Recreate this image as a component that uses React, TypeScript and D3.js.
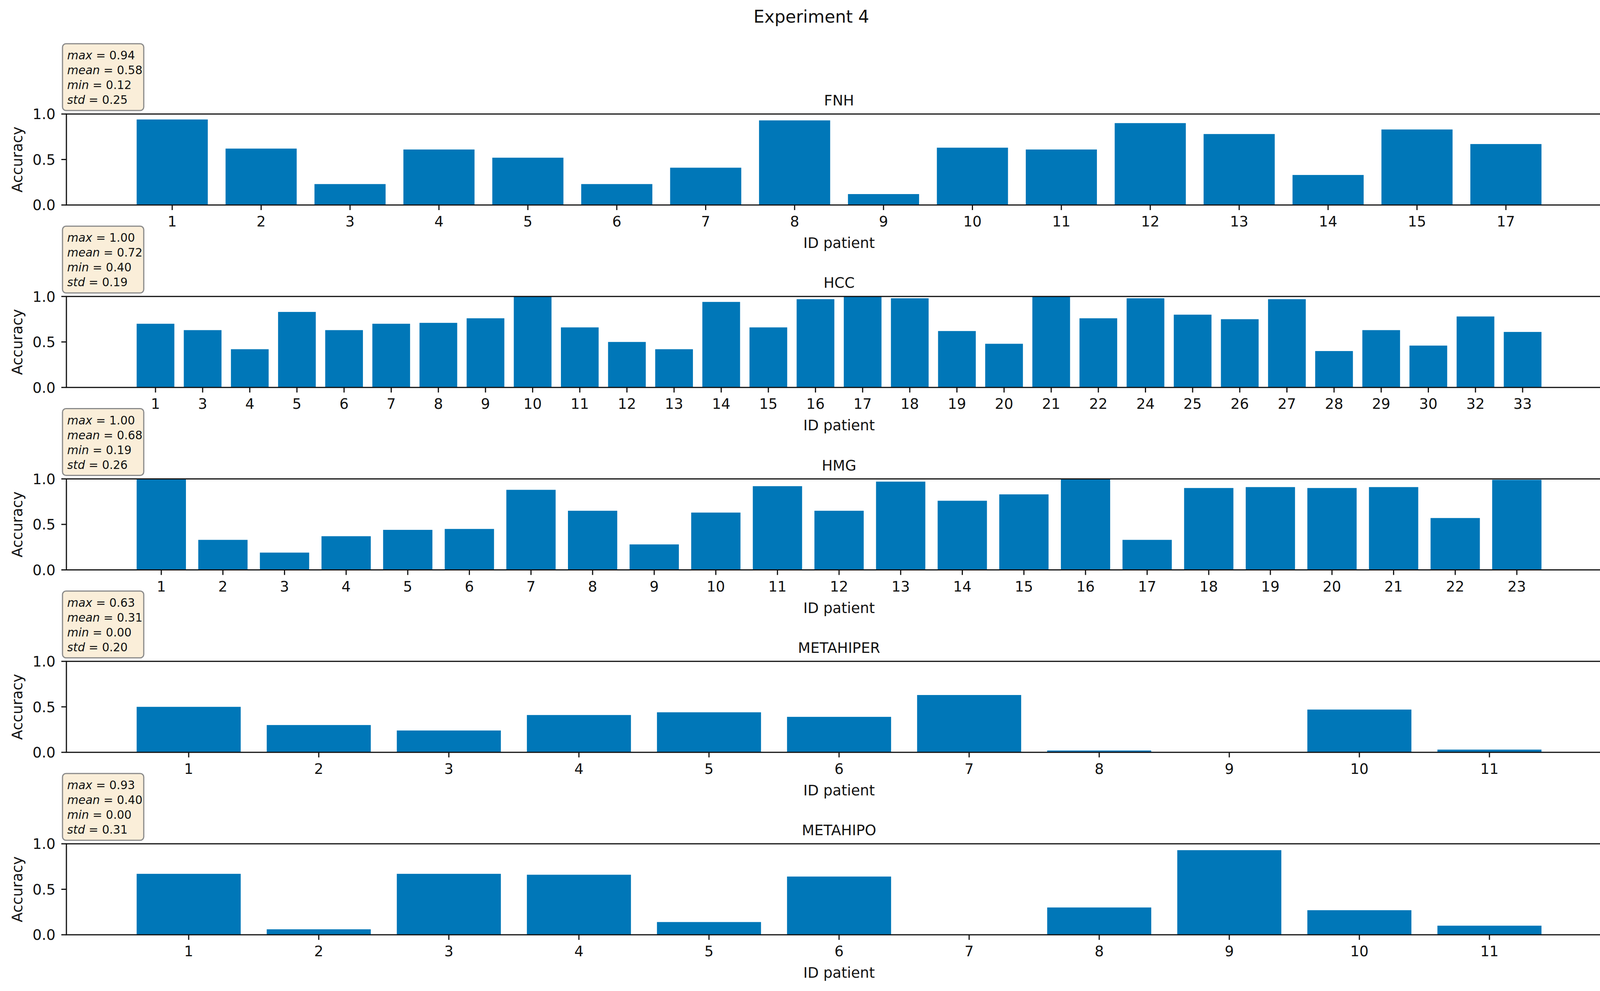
import React, { useEffect } from 'react';
import * as d3 from 'd3';

const figTitle = 'Experiment 4';
const xLabel = 'ID patient';
const yLabel = 'Accuracy';
const groupNames = ['FNH', 'HCC', 'HMG', 'METAHIPER', 'METAHIPO'];

const fnhIds = ['1', '2', '3', '4', '5', '6', '7', '8', '9', '10', '11', '12', '13', '14', '15', '17'];
const fnhAcc = [0.94, 0.62, 0.23, 0.61, 0.52, 0.23, 0.41, 0.93, 0.12, 0.63, 0.61, 0.9, 0.78, 0.33, 0.83, 0.67];

const hccIds = ['1', '3', '4', '5', '6', '7', '8', '9', '10', '11', '12', '13', '14', '15', '16', '17', '18', '19', '20', '21', '22', '24', '25', '26', '27', '28', '29', '30', '32', '33'];
const hccAcc = [0.7, 0.63, 0.42, 0.83, 0.63, 0.7, 0.71, 0.76, 1.0, 0.66, 0.5, 0.42, 0.94, 0.66, 0.97, 1.0, 0.98, 0.62, 0.48, 1.0, 0.76, 0.98, 0.8, 0.75, 0.97, 0.4, 0.63, 0.46, 0.78, 0.61];

const hmgIds = ['1', '2', '3', '4', '5', '6', '7', '8', '9', '10', '11', '12', '13', '14', '15', '16', '17', '18', '19', '20', '21', '22', '23'];
const hmgAcc = [1.0, 0.33, 0.19, 0.37, 0.44, 0.45, 0.88, 0.65, 0.28, 0.63, 0.92, 0.65, 0.97, 0.76, 0.83, 1.0, 0.33, 0.9, 0.91, 0.9, 0.91, 0.57, 0.99];

const hiperIds = ['1', '2', '3', '4', '5', '6', '7', '8', '9', '10', '11'];
const hiperAcc = [0.5, 0.3, 0.24, 0.41, 0.44, 0.39, 0.63, 0.02, 0.0, 0.47, 0.03];

const hipoIds = ['1', '2', '3', '4', '5', '6', '7', '8', '9', '10', '11'];
const hipoAcc = [0.67, 0.06, 0.67, 0.66, 0.14, 0.64, 0.0, 0.3, 0.93, 0.27, 0.1];

const statNames = ['max', 'mean', 'min', 'std'];
const fnhStats = ['0.94', '0.58', '0.12', '0.25'];
const hccStats = ['1.00', '0.72', '0.40', '0.19'];
const hmgStats = ['1.00', '0.68', '0.19', '0.26'];
const hiperStats = ['0.63', '0.31', '0.00', '0.20'];
const hipoStats = ['0.93', '0.40', '0.00', '0.31'];

const yTickValues = [0, 0.5, 1.0];

const idLists = [fnhIds, hccIds, hmgIds, hiperIds, hipoIds];
const accLists = [fnhAcc, hccAcc, hmgAcc, hiperAcc, hipoAcc];
const statLists = [fnhStats, hccStats, hmgStats, hiperStats, hipoStats];

const W = 4153;
const H = 2538;
const axLeft = 170;
const axRight = 4126;
const axH = 233;
const firstTop = 292;
const rowStep = 467.25;
const barColor = '#0077b8';
const font = "'DejaVu Sans', sans-serif";

const Panel = ({ k }) => {
  const ids = idLists[k];
  const acc = accLists[k];
  const stats = statLists[k];
  const top = firstTop + k * rowStep;
  const bottom = top + axH;
  const n = ids.length;
  // matplotlib-like 5% margins around the bars
  const pad = 0.05 * (n - 1 + 0.8);
  const x = d3.scaleLinear().domain([-0.4 - pad, n - 1 + 0.4 + pad]).range([axLeft, axRight]);
  const y = d3.scaleLinear().domain([0, 1]).range([bottom, top]);
  const midX = (axLeft + axRight) / 2;

  return (
    <g>
      {acc.map((v, i) => (
        <rect
          key={i}
          x={x(i - 0.4)}
          y={y(v)}
          width={x(i + 0.4) - x(i - 0.4)}
          height={y(0) - y(v)}
          fill={barColor}
        />
      ))}
      <rect x={axLeft} y={top} width={axRight - axLeft} height={axH} fill="none" stroke="#111" strokeWidth={3} />
      {yTickValues.map((t) => (
        <g key={t}>
          <line x1={axLeft - 13} x2={axLeft} y1={y(t)} y2={y(t)} stroke="#111" strokeWidth={3} />
          <text x={axLeft - 28} y={y(t)} dy="0.36em" textAnchor="end" fontSize={37} fill="#111">
            {t.toFixed(1)}
          </text>
        </g>
      ))}
      {ids.map((id, i) => (
        <g key={id}>
          <line x1={x(i)} x2={x(i)} y1={bottom} y2={bottom + 13} stroke="#111" strokeWidth={3} />
          <text x={x(i)} y={bottom + 55} textAnchor="middle" fontSize={37} fill="#111">
            {id}
          </text>
        </g>
      ))}
      <text x={midX} y={bottom + 110} textAnchor="middle" fontSize={37} fill="#111">
        {xLabel}
      </text>
      <text
        transform={`translate(57, ${(top + bottom) / 2}) rotate(-90)`}
        textAnchor="middle"
        fontSize={37}
        fill="#111"
      >
        {yLabel}
      </text>
      <text x={midX} y={top - 22} textAnchor="middle" fontSize={37} fill="#111">
        {groupNames[k]}
      </text>
      <rect
        x={axLeft - 10}
        y={top - 180}
        width={208}
        height={171}
        rx={9}
        fill="#faeed9"
        stroke="#8a8a8a"
        strokeWidth={3}
      />
      {statNames.map((s, j) => (
        <text key={s} x={axLeft + 2} y={top - 140 + j * 38} fontSize={29.5} fill="#111">
          <tspan fontStyle="italic">{s}</tspan>
          <tspan>{' = ' + stats[j]}</tspan>
        </text>
      ))}
    </g>
  );
};

export default function App() {
  useEffect(() => {
    document.body.style.margin = '0';
  }, []);
  return (
    <svg
      width={W}
      height={H}
      style={{ display: 'block', position: 'absolute', left: 0, top: 0, background: '#fff' }}
      fontFamily={font}
    >
      <rect width={W} height={H} fill="#fff" />
      <text x={2077} y={58} textAnchor="middle" fontSize={44} fill="#111">
        {figTitle}
      </text>
      {groupNames.map((g, k) => (
        <Panel key={g} k={k} />
      ))}
    </svg>
  );
}
